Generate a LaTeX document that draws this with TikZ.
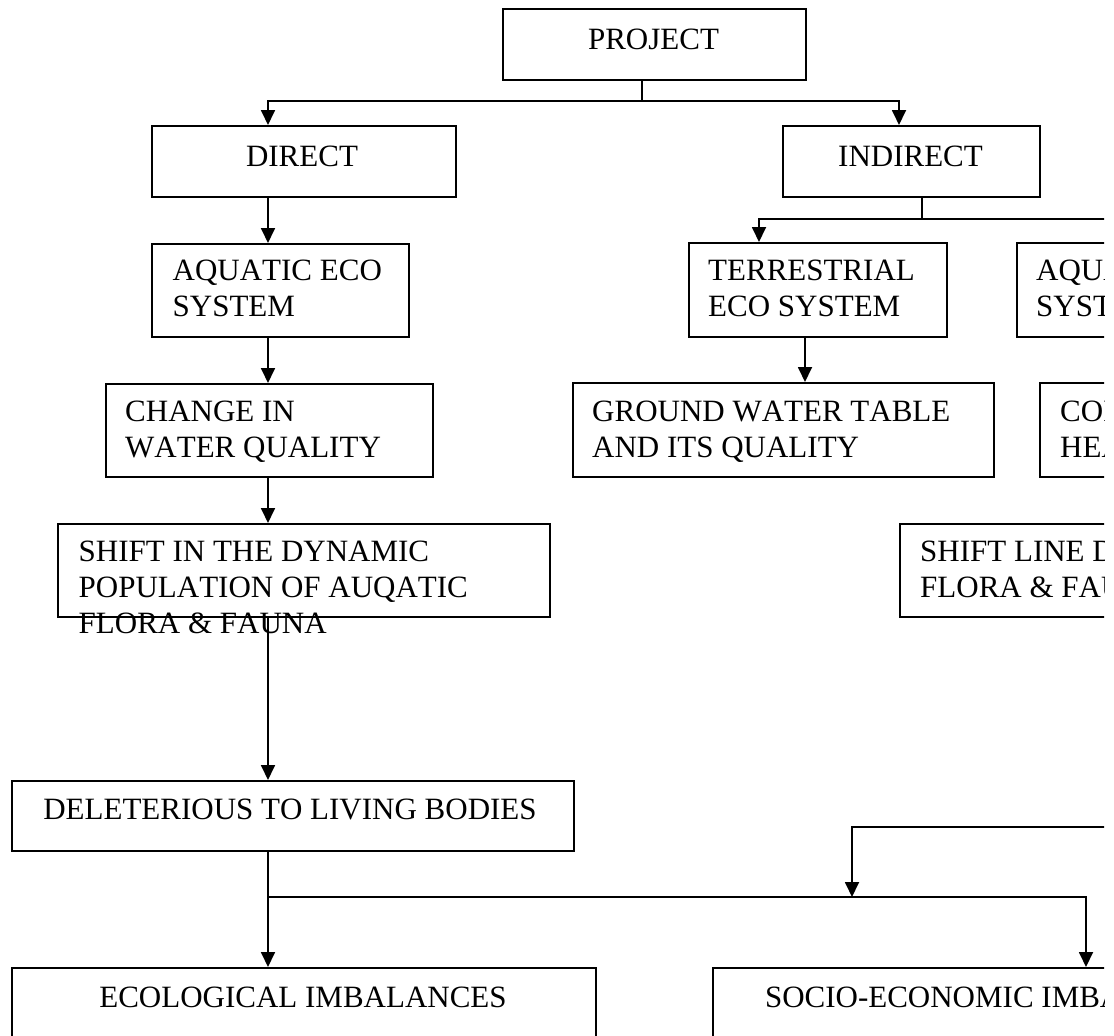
\documentclass[tikz,border=0pt]{standalone}
\usepackage{fontspec}
\setmainfont{Liberation Serif}[Kerning=Off]
\usetikzlibrary{arrows.meta}
% stacked left-aligned lines whose baseline is the first line's
\newcommand{\boxlines}[1]{\begin{tabular}[t]{@{}l@{}}#1\end{tabular}}

\begin{document}
\begin{tikzpicture}[x=1pt,y=-1pt,
  box/.style={draw, line width=1.8pt, rectangle, inner sep=0pt, anchor=north west},
  txt/.style={inner sep=0pt, font=\fontsize{31}{36}\selectfont},
  txtl/.style={txt, anchor=base west},
  txtc/.style={txt, anchor=base},
  link/.style={line width=1.8pt},
  arr/.style={line width=1.8pt, -{Triangle[length=15pt,width=14pt]}}]

\useasboundingbox (0,0) rectangle (1114,1036);

\begin{scope}
\clip (0,0) rectangle (1104,1036);

% ---- boxes ----
\node[box, minimum width=303pt, minimum height=71pt] (project) at (502,8) {};
\node[box, minimum width=304pt, minimum height=71pt] (direct) at (151,125) {};
\node[box, minimum width=257pt, minimum height=71pt] (indirect) at (782,125) {};
\node[box, minimum width=257pt, minimum height=93pt] (aqua) at (151,243) {};
\node[box, minimum width=258pt, minimum height=94pt] (terr) at (688,242) {};
\node[box, minimum width=258pt, minimum height=94pt] (aqua2) at (1016,242) {};
\node[box, minimum width=327pt, minimum height=93pt] (change) at (105,383) {};
\node[box, minimum width=421pt, minimum height=94pt] (ground) at (572,382) {};
\node[box, minimum width=421pt, minimum height=94pt] (com) at (1039,382) {};
\node[box, minimum width=492pt, minimum height=93pt] (shiftin) at (57,523) {};
\node[box, minimum width=492pt, minimum height=93pt] (shiftline) at (899,523) {};
\node[box, minimum width=562pt, minimum height=70pt] (delet) at (11,780) {};
\node[box, minimum width=584pt, minimum height=100pt] (ecol) at (11,967) {};
\node[box, minimum width=584pt, minimum height=100pt] (socio) at (712,967) {};

% ---- texts ----
\node[txtc] (t-project) at (653.5,49) {PROJECT};
\node[txtc] (t-direct) at (302,166) {DIRECT};
\node[txtc] (t-indirect) at (910.5,166) {INDIRECT};
\node[txtl] (t-aqua) at (172.5,280) {\boxlines{AQUATIC ECO\\SYSTEM}};
\node[txtl] (t-terr) at (708,280) {\boxlines{TERRESTRIAL\\ECO SYSTEM}};
\node[txtl] (t-aqua2) at (1036,280) {\boxlines{AQUATIC ECO\\SYSTEM}};
\node[txtl] (t-change) at (125,421) {\boxlines{CHANGE IN\\WATER QUALITY}};
\node[txtl] (t-ground) at (592,421) {\boxlines{GROUND WATER TABLE\\AND ITS QUALITY}};
\node[txtl] (t-com) at (1060,421) {\boxlines{COMMUNITY\\HEALTH}};
\node[txtl] (t-shiftin) at (78.5,561) {\boxlines{SHIFT IN THE DYNAMIC\\POPULATION OF AUQATIC\\FLORA \& FAUNA}};
\node[txtl] (t-shiftline) at (920,561) {\boxlines{SHIFT LINE DYNAMIC\\FLORA \& FAUNA}};
\node[txtc] (t-delet) at (290,819) {DELETERIOUS TO LIVING BODIES};
\node[txtc] (t-ecol) at (303,1007) {ECOLOGICAL IMBALANCES};
\node[txtc] (t-socio) at (1004,1007) {SOCIO-ECONOMIC IMBALANCES};

% ---- connector columns and junctions ----
\coordinate (cA) at (268,0);
\coordinate (cB) at (899,0);
\coordinate (cC) at (759,0);
\coordinate (cD) at (1150,0);
\coordinate (cE) at (1086,0);
\coordinate (cF) at (805,0);
\coordinate (j1) at (642,101);
\coordinate (j2) at (922,219);
\coordinate (j3) at (268,897);
\coordinate (rf) at (1150,827);
\coordinate (merge) at (852,897);

% project splits into direct and indirect
\draw[link] (project.south -| j1) -- (j1);
\draw[arr] (j1) -| (direct.north -| cA);
\draw[arr] (j1) -| (indirect.north -| cB);

% direct chain
\draw[arr] (direct.south -| cA) -- (aqua.north -| cA);
\draw[arr] (aqua.south -| cA) -- (change.north -| cA);
\draw[arr] (change.south -| cA) -- (shiftin.north -| cA);
\draw[arr] (shiftin.south -| cA) -- (delet.north -| cA);
\draw[arr] (delet.south -| cA) -- (ecol.north -| cA);
\draw[arr] (j3) -| (socio.north -| cE);

% indirect chain
\draw[link] (indirect.south -| j2) -- (j2);
\draw[arr] (j2) -| (terr.north -| cC);
\draw[arr] (j2) -| (aqua2.north -| cD);
\draw[arr] (terr.south -| cF) -- (ground.north -| cF);
\draw[arr] (aqua2.south -| cD) -- (com.north -| cD);
\draw[arr] (com.south -| cD) -- (shiftline.north -| cD);
\draw[link] (shiftline.south -| rf) -- (rf);
\draw[arr] (rf) -| (merge);
\end{scope}
\end{tikzpicture}
\end{document}
